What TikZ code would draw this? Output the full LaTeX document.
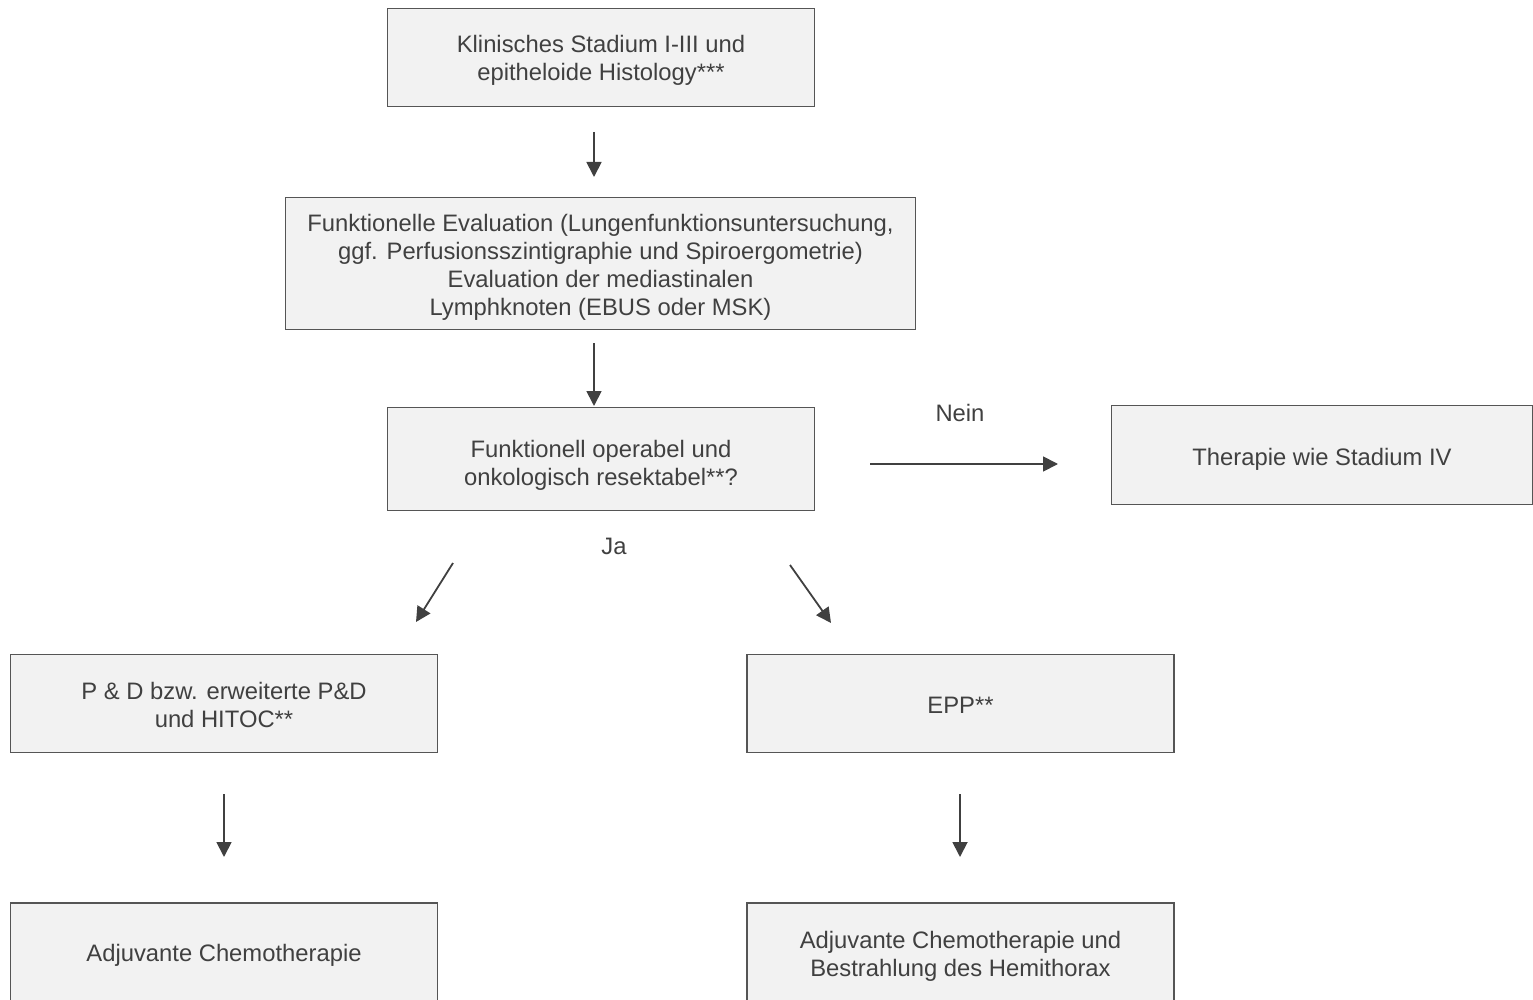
\documentclass[tikz,border=0pt]{standalone}
\usepackage{fontspec}
\setmainfont{Liberation Sans}
\usetikzlibrary{arrows.meta}
\definecolor{boxfill}{HTML}{F2F2F2}
\definecolor{boxline}{HTML}{555555}
\definecolor{txt}{HTML}{404040}
\begin{document}
\begin{tikzpicture}[x=1pt,y=-1pt,
  box/.style={draw=boxline,line width=1.7pt,fill=boxfill,inner sep=0pt,
    minimum width=427pt,minimum height=98pt},
  tx/.style={text=txt,align=center,inner sep=0pt,font=\fontsize{23.8}{28}\selectfont},
  arr/.style={draw=txt,line width=1.8pt,-{Triangle[length=15pt,width=15pt]}},
  lbl/.style={text=txt,inner sep=0pt,font=\fontsize{23.8}{28}\selectfont}]
\useasboundingbox (0,0) rectangle (1533,1000);
% boxes
\node[box] (A) at (601,57.5) {};
\node[box,minimum width=630pt,minimum height=132pt] (B) at (600.5,263.5) {};
\node[box,minimum height=103pt] (C) at (601,459) {};
\node[box,minimum width=421pt,minimum height=99pt] (D) at (1322,455) {};
\node[box] (E) at (224,703.5) {};
\node[box] (F) at (960.5,703.5) {};
\node[box] (G) at (224,952) {};
\node[box] (H) at (960.5,952) {};
% box texts
\node[tx] (At) at ([yshift=-3pt]A.center) {Klinisches Stadium I-III und\\ epitheloide Histology***};
\node[tx] (Bt) at ([yshift=-4pt]B.center) {Funktionelle Evaluation (Lungenfunktionsuntersuchung,\\ ggf. Perfusionsszintigraphie und Spiroergometrie)\\ Evaluation der mediastinalen\\ Lymphknoten (EBUS oder MSK)};
\node[tx] (Ct) at ([yshift=-6pt]C.center) {Funktionell operabel und\\ onkologisch resektabel**?};
\node[tx] (Dt) at ([yshift=-4pt]D.center) {Therapie wie Stadium IV};
\node[tx] (Et) at ([yshift=-1.5pt]E.center) {P \& D bzw. erweiterte P\&D\\ und HITOC**};
\node[tx] (Ft) at ([yshift=-2pt]F.center) {EPP**};
\node[tx] (Gt) at ([yshift=-3pt]G.center) {Adjuvante Chemotherapie};
\node[tx] (Ht) at ([yshift=-4pt]H.center) {Adjuvante Chemotherapie und\\ Bestrahlung des Hemithorax};
% labels
\node[lbl] (nein) at (960,413) {Nein};
\node[lbl] (ja) at (614,546) {Ja};
% arrows
\coordinate (a1) at (594,132); \coordinate (a2) at (594,177);
\coordinate (b1) at (594,343); \coordinate (b2) at (594,406);
\coordinate (c1) at (870,464); \coordinate (c2) at (1058,464);
\coordinate (j1) at (453,563); \coordinate (j2) at (416,622);
\coordinate (k1) at (790,565); \coordinate (k2) at (831,623);
\coordinate (e1) at (224,794); \coordinate (e2) at (224,857);
\coordinate (f1) at (960,794); \coordinate (f2) at (960,857);
\draw[arr] (a1) -- (a2);
\draw[arr] (b1) -- (b2);
\draw[arr] (c1) -- (c2);
\draw[arr] (j1) -- (j2);
\draw[arr] (k1) -- (k2);
\draw[arr] (e1) -- (e2);
\draw[arr] (f1) -- (f2);
\end{tikzpicture}
\end{document}
